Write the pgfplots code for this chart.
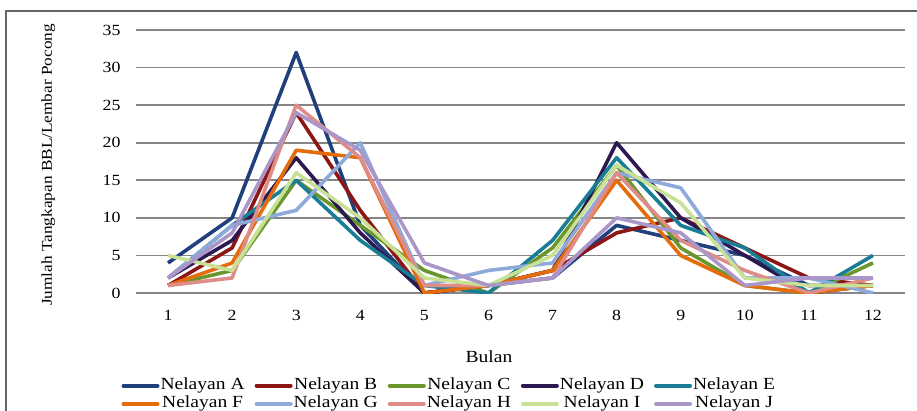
\documentclass[border=0pt]{standalone}
\usepackage{fontspec}
\setmainfont{Liberation Serif}[FakeStretch=1.15]
\usepackage{pgfplots}
\usepackage{pgfplotstable}
\pgfplotsset{compat=1.18}

\definecolor{cA}{RGB}{31,64,125}
\definecolor{cB}{RGB}{140,22,22}
\definecolor{cC}{RGB}{105,150,45}
\definecolor{cD}{RGB}{45,25,80}
\definecolor{cE}{RGB}{25,125,150}
\definecolor{cF}{RGB}{228,108,10}
\definecolor{cG}{RGB}{142,170,218}
\definecolor{cH}{RGB}{222,140,135}
\definecolor{cI}{RGB}{200,225,150}
\definecolor{cJ}{RGB}{170,150,200}
\definecolor{gridgray}{RGB}{134,134,134}

% tangkapan per bulan, nelayan A-J
\pgfplotstableread{
m  A  B  C  D  E  F  G  H  I  J
1  4  1  1  2  2  1  2  1  5  2
2  10 6  3  7  9  4  9  2  3  8
3  32 24 15 18 15 19 11 25 16 24
4  9  11 9  8  7  18 20 18 10 19
5  0  0  3  0  1  0  1  1  2  4
6  1  1  0  1  0  1  3  1  1  1
7  2  3  6  3  7  3  4  2  5  2
8  9  8  17 20 18 15 16 16 17 10
9  7  10 6  10 9  5  14 7  12 8
10 5  6  1  5  6  1  2  3  2  1
11 1  2  0  0  0  0  2  0  1  2
12 1  1  4  1  5  1  0  2  1  2
}\tangkapan

\begin{document}
\begin{tikzpicture}[x=1pt,y=1pt]
\draw[line width=1.2pt, color=gray!80!black] (6,-11) rectangle (960,-460);
\begin{axis}[
    at={(136pt,-293pt)}, anchor=south west,
    scale only axis, width=769pt, height=263pt,
    xmin=0.5, xmax=12.5, ymin=0, ymax=35,
    xtick={1,...,12}, ytick={0,5,...,35},
    ymajorgrids, grid style={line width=1.6pt, color=gridgray},
    axis line style={draw=none},
    major tick length=0pt,
    tick label style={font=\fontsize{15.5}{18}\selectfont},
    /pgf/number format/assume math mode=true,
    yticklabel style={xshift=-12pt},
    xticklabel style={yshift=-14pt},
    xlabel={Bulan},
    xlabel style={at={(axis description cs:0.459,-0.266)}, anchor=base, font=\fontsize{17}{20}\selectfont},
    ylabel={Jumlah Tangkapan BBL/Lembar Pocong},
    ylabel style={at={(axis description cs:-0.114,0.487)}, anchor=center, font=\fontsize{15}{18}\selectfont},
    no markers,
    every axis plot/.append style={line width=3.6pt, line join=round},
    legend columns=5,
    legend style={at={(axis description cs:-0.023,-0.312)}, anchor=north west,
        draw=none, fill=none, font=\fontsize{17}{20}\selectfont, row sep=1pt,
        nodes={inner sep=1pt, text height=11.5pt, text depth=3.5pt},
        /tikz/every even column/.append style={column sep=9pt}},
    legend image code/.code={\draw[#1, line width=4pt, line cap=round] (0pt,0pt) -- (34pt,0pt);},
]
\addplot[cA] table[x=m, y=A] {\tangkapan};
\addlegendentry{Nelayan A}
\addplot[cB] table[x=m, y=B] {\tangkapan};
\addlegendentry{Nelayan B}
\addplot[cC] table[x=m, y=C] {\tangkapan};
\addlegendentry{Nelayan C}
\addplot[cD] table[x=m, y=D] {\tangkapan};
\addlegendentry{Nelayan D}
\addplot[cE] table[x=m, y=E] {\tangkapan};
\addlegendentry{Nelayan E}
\addplot[cF] table[x=m, y=F] {\tangkapan};
\addlegendentry{Nelayan F}
\addplot[cG] table[x=m, y=G] {\tangkapan};
\addlegendentry{Nelayan G}
\addplot[cH] table[x=m, y=H] {\tangkapan};
\addlegendentry{Nelayan H}
\addplot[cI] table[x=m, y=I] {\tangkapan};
\addlegendentry{Nelayan I}
\addplot[cJ] table[x=m, y=J] {\tangkapan};
\addlegendentry{Nelayan J}
\end{axis}
\pgfresetboundingbox
\useasboundingbox (0,0) rectangle (917,-411);
\end{tikzpicture}
\end{document}
